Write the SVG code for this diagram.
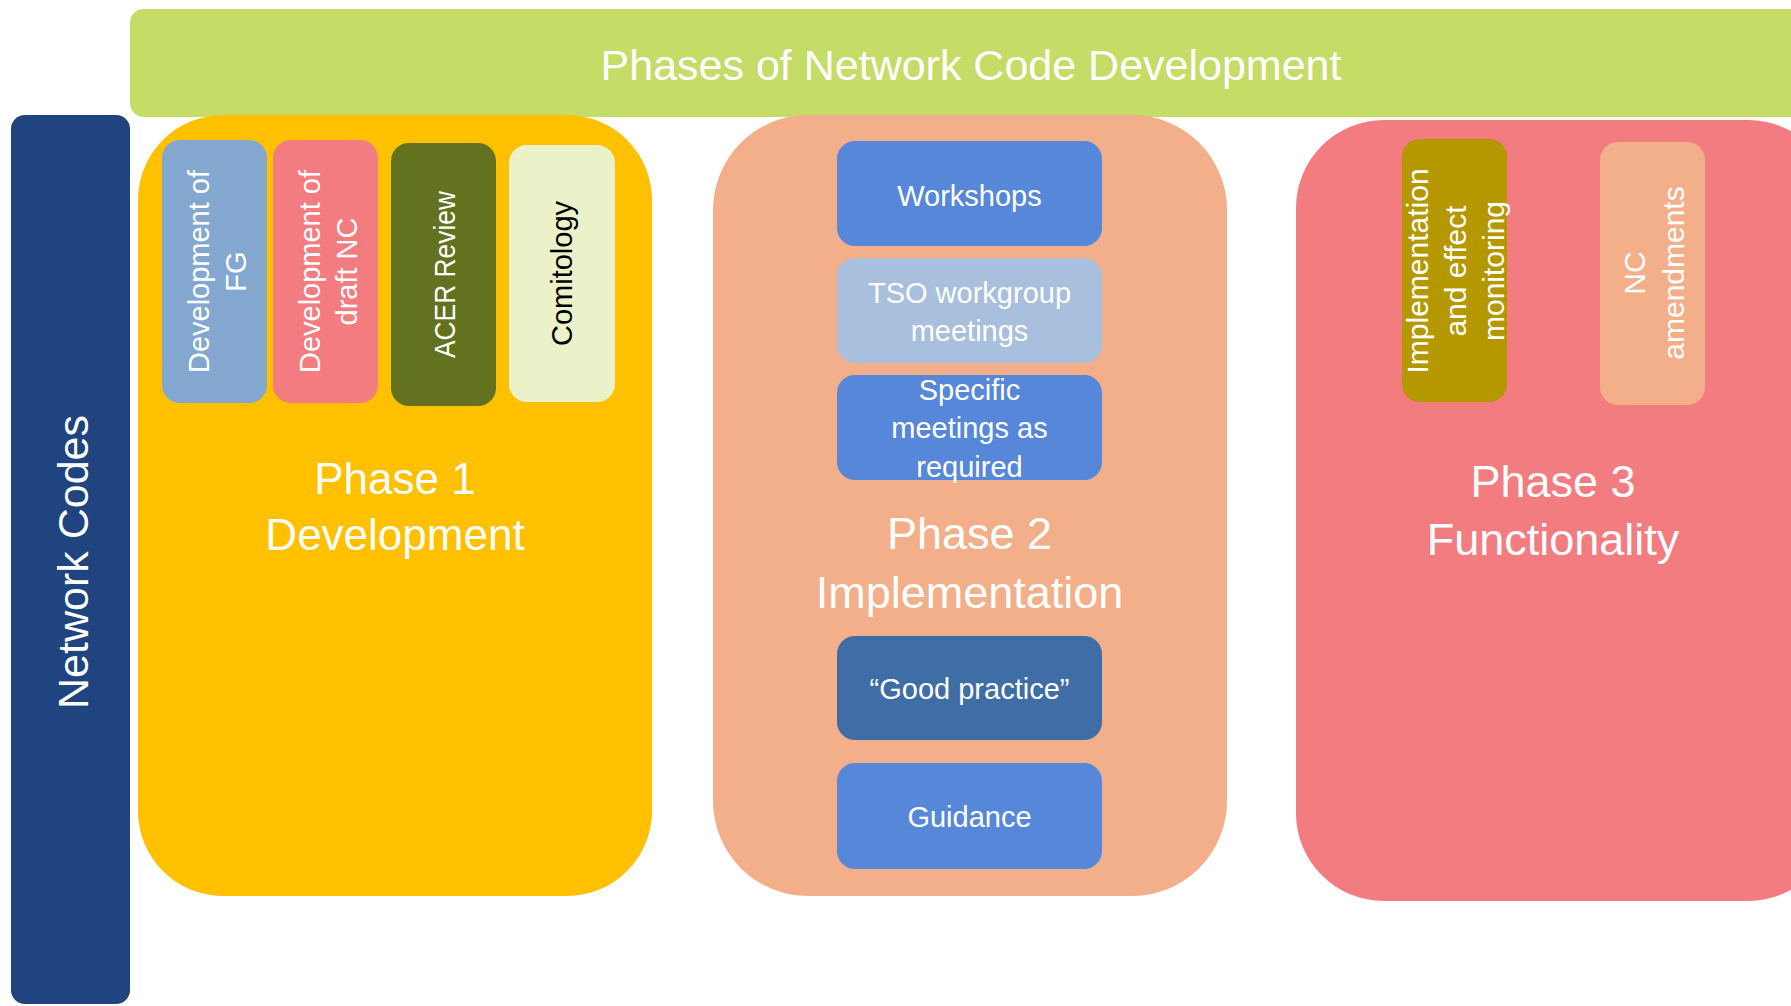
<svg xmlns="http://www.w3.org/2000/svg" width="1791" height="1006" viewBox="0 0 1791 1006">
<style>
text{font-family:"Liberation Sans",Arial,sans-serif;fill:#ffffff}
.big{font-size:44px;text-anchor:middle}
.ph{font-size:45px;text-anchor:middle}
.sm{font-size:29px;text-anchor:middle}
.v3{font-size:30px;text-anchor:middle}
.dark{fill:#000000}
</style>
<rect width="1791" height="1006" fill="#ffffff"/>
<g id="title">
<rect x="130" y="9" width="1720" height="108" rx="14" fill="#C5DC66"/>
<text x="971" y="80" style="font-size:43px;text-anchor:middle">Phases of Network Code Development</text>
</g>
<g id="network-codes">
<rect x="11" y="115" width="119" height="889" rx="14" fill="#20447F"/>
<text transform="translate(88,562) rotate(-90)" style="font-size:43px;text-anchor:middle">Network Codes</text>
</g>
<g id="phase1">
<rect x="138" y="115" width="514" height="781" rx="85" fill="#FFC000"/>
<text class="big" x="395" y="494">Phase 1</text>
<text class="big" x="395" y="550">Development</text>
</g>
<g id="dev-fg">
<rect x="162" y="140" width="105" height="263" rx="18" fill="#84A7D0"/>
<text class="sm" transform="translate(209,271.5) rotate(-90)"><tspan x="0" y="0">Development of</tspan><tspan x="0" y="37">FG</tspan></text>
</g>
<g id="dev-nc">
<rect x="273" y="140" width="105" height="263" rx="18" fill="#F27C80"/>
<text class="sm" transform="translate(320,271.5) rotate(-90)"><tspan x="0" y="0">Development of</tspan><tspan x="0" y="37">draft NC</tspan></text>
</g>
<g id="acer">
<rect x="391" y="143" width="105" height="263" rx="18" fill="#63721F"/>
<text class="sm" transform="translate(455,274.5) rotate(-90)" textLength="167" lengthAdjust="spacingAndGlyphs">ACER Review</text>
</g>
<g id="comitology">
<rect x="509" y="145" width="106" height="257" rx="18" fill="#EBF2CA"/>
<text class="sm dark" transform="translate(572,273.5) rotate(-90)">Comitology</text>
</g>
<g id="phase2">
<rect x="713" y="115" width="514" height="781" rx="95" fill="#F2AF8A"/>
<text class="ph" x="969.5" y="549">Phase 2</text>
<text class="ph" x="969.5" y="608">Implementation</text>
</g>
<g id="workshops">
<rect x="837" y="141" width="265" height="105" rx="18" fill="#5787D8"/>
<text class="sm" x="969.5" y="206">Workshops</text>
</g>
<g id="tso">
<rect x="837" y="258" width="265" height="105" rx="18" fill="#A8BFDD"/>
<text class="sm" x="969.5" y="302.5">TSO workgroup</text>
<text class="sm" x="969.5" y="341">meetings</text>
</g>
<g id="specific">
<rect x="837" y="375" width="265" height="105" rx="18" fill="#5787D8"/>
<text class="sm" x="969.5" y="400">Specific</text>
<text class="sm" x="969.5" y="438">meetings as</text>
<text class="sm" x="969.5" y="476.5">required</text>
</g>
<g id="good-practice">
<rect x="837" y="636" width="265" height="104" rx="18" fill="#3F6DA6"/>
<text class="sm" x="969.5" y="698.5">“Good practice”</text>
</g>
<g id="guidance">
<rect x="837" y="763" width="265" height="106" rx="18" fill="#5787D8"/>
<text class="sm" x="969.5" y="827">Guidance</text>
</g>
<g id="phase3">
<rect x="1296" y="120" width="540" height="781" rx="88" fill="#F27C80"/>
<text class="ph" x="1553" y="497">Phase 3</text>
<text class="ph" x="1553" y="555">Functionality</text>
</g>
<g id="impl-monitoring">
<rect x="1402" y="139" width="105" height="263" rx="18" fill="#B59800"/>
<text class="v3" transform="translate(1428,271) rotate(-90)"><tspan x="0" y="0">Implementation</tspan><tspan x="0" y="38">and effect</tspan><tspan x="0" y="76">monitoring</tspan></text>
</g>
<g id="nc-amendments">
<rect x="1600" y="142" width="105" height="263" rx="18" fill="#F2AF8A"/>
<text class="v3" transform="translate(1645,273) rotate(-90)"><tspan x="0" y="0">NC</tspan><tspan x="0" y="39">amendments</tspan></text>
</g>
<g id="connectors"/>
</svg>
